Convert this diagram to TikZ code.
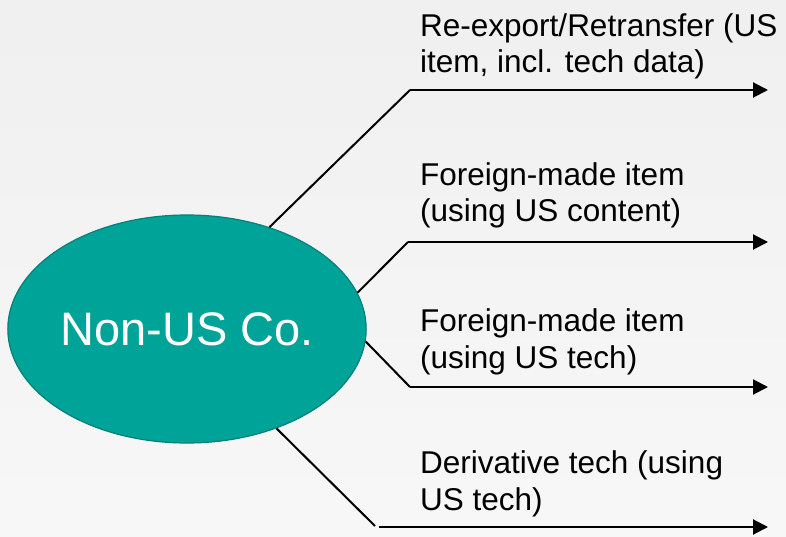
\documentclass[tikz,border=0pt]{standalone}
\usepackage{fontspec}
\setmainfont{Liberation Sans}
\usetikzlibrary{positioning, shapes.geometric, arrows.meta}
\definecolor{myteal}{RGB}{0,163,152}
\definecolor{mytealdark}{RGB}{0,128,122}
\tikzset{
  company/.style={ellipse, draw=mytealdark, line width=1.2, fill=myteal,
    text=white, minimum width=354, minimum height=228, inner sep=0,
    font=\fontsize{47}{56}\selectfont},
  itemtext/.style={anchor=base west, align=left, inner sep=0,
    font=\fontsize{31.5}{36.5}\selectfont},
  stem/.style={line width=2, draw=black},
  branch/.style={line width=2, draw=black, -{Triangle[length=15,width=15]}}
}

\begin{document}
\begin{tikzpicture}[x=1pt, y=-1pt]

\useasboundingbox (0,0) rectangle (786,537);
\shade[top color=black!6, middle color=white, bottom color=black!3] (0,0) rectangle (786,537);

\node [company] (co) at (187,329) {Non-US Co.};

\coordinate (e1) at (410,90);
\coordinate (e2) at (408,242);
\coordinate (e3) at (410,387);
\coordinate (e4) at (375,526);
\coordinate (e4b) at (379,527);

\coordinate (t1) at (768,90);
\coordinate (t2) at (768,242);
\coordinate (t3) at (768,387);
\coordinate (t4) at (768,527);

\draw[stem] (co.51) -- (e1);
\draw[branch] (e1) -- (t1);
\draw[stem] (co.12) -- (e2);
\draw[branch] (e2) -- (t2);
\draw[stem] (co.-4) -- (e3);
\draw[branch] (e3) -- (t3);
\draw[stem] (co.-48) -- (e4);
\draw[branch] (e4b) -- (t4);

% anchor is the baseline of the last line
\node [itemtext] (l1) at (420,73) {Re-export/Retransfer (US\\item, incl. tech data)};
\node [itemtext] (l2) at (420,222) {Foreign-made item\\(using US content)};
\node [itemtext] (l3) at (420,368) {Foreign-made item\\(using US tech)};
\node [itemtext] (l4) at (420,510) {Derivative tech (using\\US tech)};

\end{tikzpicture}
\end{document}
